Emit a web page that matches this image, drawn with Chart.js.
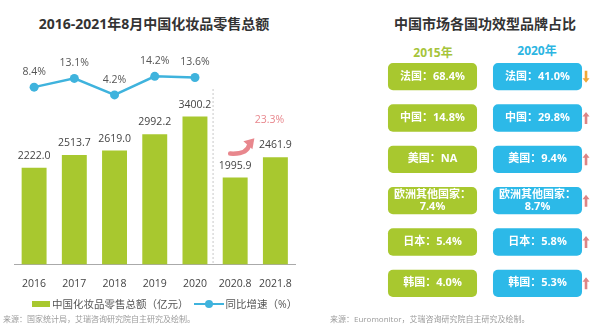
<!DOCTYPE html>
<html>
<head>
<meta charset="utf-8">
<script src="https://cdn.jsdelivr.net/npm/chart.js@4.4.1/dist/chart.umd.min.js"></script>
<style>
  body { margin: 0; width: 600px; height: 327px; background: #fff; position: relative; overflow: hidden;
         font-family: "Open Sans", "Noto Sans CJK SC", sans-serif; }
  .abs { position: absolute; white-space: nowrap; }
  .title { font-size: 14px; font-weight: bold; color: #333; transform: translateX(-50%); }
  .year { font-size: 12px; font-weight: bold; transform: translateX(-50%); }
  .src { font-size: 8px; color: #9a9a9a; }
  .legend { font-size: 10.5px; color: #555; display: flex; align-items: center; }
  canvas { position: absolute; top: 0; }
</style>
</head>
<body>
<div class="abs title" style="left:154px; top:13px;">2016-2021年8月中国化妆品零售总额</div>
<div class="abs title" style="left:485px; top:13px;">中国市场各国功效型品牌占比</div>
<div class="abs year" style="left:433px; top:43px; color:#a6c43a;">2015年</div>
<div class="abs year" style="left:537px; top:41px; color:#2cb5e2;">2020年</div>

<canvas id="salesChart" width="300" height="303" style="left:0;"></canvas>
<canvas id="shareChart" width="300" height="327" style="left:300px;"></canvas>

<div class="abs legend" style="left:32px; top:296px;">
  <span style="display:inline-block;width:18px;height:6px;background:#a8c82f;margin-right:2px;"></span>中国化妆品零售总额（亿元）
  <span style="display:inline-block;position:relative;width:30px;height:2px;background:#3fb3dd;margin:0 2px 0 5px;">
    <span style="position:absolute;left:11px;top:-3px;width:8px;height:8px;border-radius:50%;background:#3fb3dd;"></span>
  </span>同比增速（%）
</div>
<div class="abs src" style="left:3px; top:313px;">来源：国家统计局，艾瑞咨询研究院自主研究及绘制。</div>
<div class="abs src" style="left:330px; top:313px;">来源：Euromonitor，艾瑞咨询研究院自主研究及绘制。</div>

<script>
// 零售总额与同比增速
const years = ['2016', '2017', '2018', '2019', '2020', '2020.8', '2021.8'];
const retailSales = [2222.0, 2513.7, 2619.0, 2992.2, 3400.2, 1995.9, 2461.9];
const growthRate = [8.4, 13.1, 4.2, 14.2, 13.6, null, null];

// 各国功效型品牌占比（%）
const countries = ['法国', '中国', '美国', '欧洲其他国家', '日本', '韩国'];
const share2015 = [68.4, 14.8, null, 7.4, 5.4, 4.0];
const share2020 = [41.0, 29.8, 9.4, 8.7, 5.8, 5.3];

const FONT = '"Open Sans", "Noto Sans CJK SC", sans-serif';
const GREEN = '#a8c82f';
const BLUE = '#2cb9e8';
const LINE_BLUE = '#3fb3dd';

Chart.defaults.font.family = FONT;

// 柱顶数值、折线点数值、分隔虚线和增长箭头
const salesLabels = {
    id: 'salesLabels',
    afterDatasetsDraw(chart) {
        const ctx = chart.ctx;
        const area = chart.chartArea;
        const lineMeta = chart.getDatasetMeta(0);
        const barMeta = chart.getDatasetMeta(1);
        ctx.save();
        ctx.font = '10.5px ' + FONT;
        ctx.textAlign = 'center';
        ctx.textBaseline = 'middle';

        ctx.fillStyle = '#444';
        barMeta.data.forEach((bar, i) => {
            ctx.fillText(retailSales[i].toFixed(1), bar.x, bar.y - 12);
        });

        ctx.fillStyle = '#555';
        lineMeta.data.forEach((pt, i) => {
            if (growthRate[i] == null) return;
            ctx.fillText(growthRate[i].toFixed(1) + '%', pt.x, pt.y - 15);
        });

        // 2020 与 2020.8 之间的虚线
        const xs = chart.scales.x;
        const sepX = (xs.getPixelForValue(4) + xs.getPixelForValue(5)) / 2 - 2;
        ctx.strokeStyle = '#c8c8c8';
        ctx.lineWidth = 1;
        ctx.setLineDash([2, 2]);
        ctx.beginPath();
        ctx.moveTo(sepX, 89);
        ctx.lineTo(sepX, area.bottom);
        ctx.stroke();
        ctx.setLineDash([]);

        // 2020.8 -> 2021.8 增长箭头
        const b5 = barMeta.data[5], b6 = barMeta.data[6];
        const tx = b5.x - 5, ty = b5.y - 24;
        const hx = b6.x - 22, hy = b6.y - 17;
        ctx.strokeStyle = '#e8878d';
        ctx.fillStyle = '#e8878d';
        ctx.lineWidth = 4.5;
        ctx.lineCap = 'round';
        ctx.beginPath();
        ctx.moveTo(tx, ty);
        ctx.quadraticCurveTo(hx - 6, ty + 1, hx - 4, hy + 4);
        ctx.stroke();
        ctx.beginPath();
        ctx.moveTo(hx + 1, hy - 2);
        ctx.lineTo(hx - 10, hy + 1);
        ctx.lineTo(hx - 1, hy + 9);
        ctx.closePath();
        ctx.fill();

        const growth = (retailSales[6] / retailSales[5] - 1) * 100;
        ctx.font = '10.5px ' + FONT;
        ctx.fillText(growth.toFixed(1) + '%', b6.x - 6, b6.y - 37);
        ctx.restore();
    }
};

new Chart(document.getElementById('salesChart'), {
    type: 'bar',
    data: {
        labels: years,
        datasets: [
            {
                type: 'line',
                label: '同比增速（%）',
                data: growthRate,
                yAxisID: 'yRate',
                borderColor: LINE_BLUE,
                backgroundColor: LINE_BLUE,
                borderWidth: 2.5,
                pointRadius: 4.5,
                pointBorderWidth: 0,
                tension: 0,
                order: 0
            },
            {
                type: 'bar',
                label: '中国化妆品零售总额（亿元）',
                data: retailSales,
                yAxisID: 'ySales',
                backgroundColor: GREEN,
                barPercentage: 0.62,
                categoryPercentage: 1,
                order: 1
            }
        ]
    },
    options: {
        responsive: false,
        animation: false,
        devicePixelRatio: 1,
        layout: { padding: { top: 47, left: 14, right: 2, bottom: 8 } },
        plugins: { legend: { display: false }, tooltip: { enabled: false } },
        scales: {
            x: {
                grid: { display: false },
                border: { color: '#aaa' },
                ticks: { color: '#444', font: { size: 10.5 }, padding: 5 }
            },
            ySales: { display: false, min: 0, max: 5000 },
            yRate: { display: false, min: -87, max: 30 }
        }
    },
    plugins: [salesLabels]
});

// 占比方块内文字和变化箭头
const shareLabels = {
    id: 'shareLabels',
    afterDatasetsDraw(chart) {
        const ctx = chart.ctx;
        ctx.save();
        ctx.fillStyle = '#fff';
        ctx.textAlign = 'center';
        ctx.textBaseline = 'middle';
        ctx.font = 'bold 11px ' + FONT;
        [share2015, share2020].forEach((shares, d) => {
            chart.getDatasetMeta(d).data.forEach((box, i) => {
                const cx = (box.x + box.base) / 2;
                const val = shares[i] == null ? 'NA' : shares[i].toFixed(1) + '%';
                if (countries[i].length > 4) {
                    ctx.fillText(countries[i] + '：', cx, box.y - 6);
                    ctx.fillText(val, cx, box.y + 6);
                } else {
                    ctx.fillText(countries[i] + '：' + val, cx, box.y);
                }
            });
        });

        chart.getDatasetMeta(1).data.forEach((box, i) => {
            const up = share2020[i] > (share2015[i] || 0);
            const ax = box.x + 4, ay = box.y;
            ctx.fillStyle = up ? '#dc8585' : '#f0a838';
            ctx.beginPath();
            if (up) {
                ctx.moveTo(ax, ay - 6);
                ctx.lineTo(ax + 3.5, ay - 1.5);
                ctx.lineTo(ax + 1.3, ay - 1.5);
                ctx.lineTo(ax + 1.3, ay + 6);
                ctx.lineTo(ax - 1.3, ay + 6);
                ctx.lineTo(ax - 1.3, ay - 1.5);
                ctx.lineTo(ax - 3.5, ay - 1.5);
            } else {
                ctx.moveTo(ax, ay + 6);
                ctx.lineTo(ax + 3.5, ay + 1.5);
                ctx.lineTo(ax + 1.3, ay + 1.5);
                ctx.lineTo(ax + 1.3, ay - 6);
                ctx.lineTo(ax - 1.3, ay - 6);
                ctx.lineTo(ax - 1.3, ay + 1.5);
                ctx.lineTo(ax - 3.5, ay + 1.5);
            }
            ctx.closePath();
            ctx.fill();
        });
        ctx.restore();
    }
};

// 两列方块：左列 2015 年，右列 2020 年
const boxSpan = (col) => [col + 0.076, col + 0.924];

new Chart(document.getElementById('shareChart'), {
    type: 'bar',
    data: {
        labels: countries,
        datasets: [
            { label: '2015年', data: countries.map(() => boxSpan(0)), backgroundColor: GREEN },
            { label: '2020年', data: countries.map(() => boxSpan(1)), backgroundColor: BLUE }
        ]
    },
    options: {
        indexAxis: 'y',
        responsive: false,
        animation: false,
        devicePixelRatio: 1,
        layout: { padding: { top: 56, left: 80, right: 10, bottom: 23 } },
        datasets: {
            bar: {
                grouped: false,
                barPercentage: 0.66,
                categoryPercentage: 1,
                borderRadius: 5,
                borderSkipped: false
            }
        },
        plugins: { legend: { display: false }, tooltip: { enabled: false } },
        scales: {
            x: { display: false, min: 0, max: 2 },
            y: { display: false }
        }
    },
    plugins: [shareLabels]
});
</script>
</body>
</html>
